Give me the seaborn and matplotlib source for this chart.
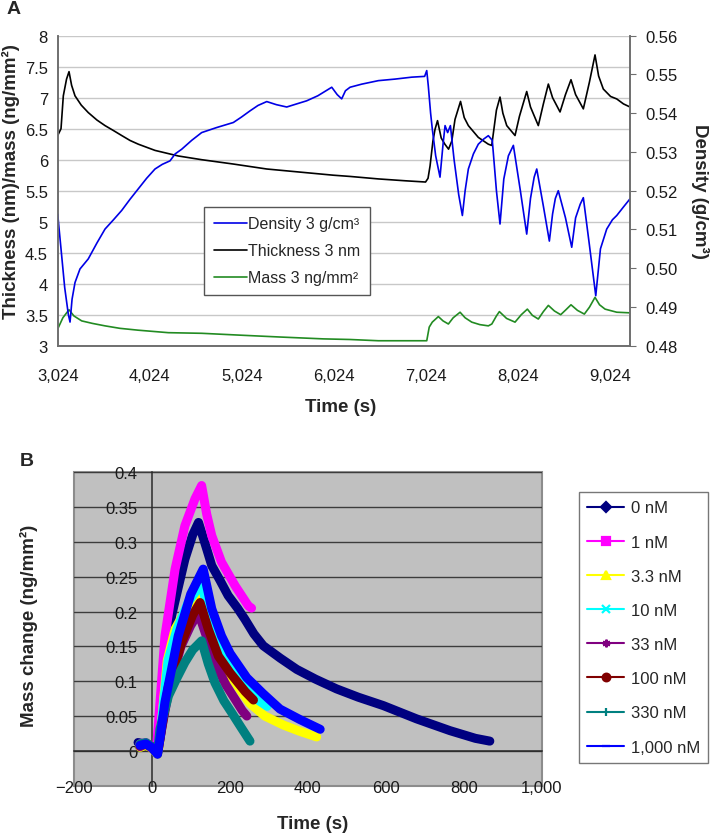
import matplotlib
matplotlib.use('Agg')
import pandas as pd
import matplotlib.pyplot as plt
import seaborn as sns
from matplotlib.lines import Line2D
from matplotlib.ticker import FuncFormatter

sns.set_style('white')
plt.rcParams['font.family'] = ['Liberation Sans', 'DejaVu Sans']

# ---- Panel A: QCM-D style traces (time in s) ----
thick_t = [3024, 3060, 3085, 3120, 3147, 3175, 3212, 3280, 3356, 3450, 3538, 3630, 3719, 3810, 3900,
           4081, 4334, 4588, 4932, 5295, 5656, 6018, 6200, 6507, 6800, 7020, 7047, 7069, 7100, 7123,
           7150, 7190, 7230, 7270, 7305, 7340, 7400, 7440, 7485, 7593, 7702, 7739, 7790, 7829, 7860,
           7902, 7992, 8040, 8119, 8160, 8245, 8300, 8354, 8400, 8481, 8540, 8600, 8650, 8734, 8800,
           8861, 8900, 8951, 9030, 9097, 9170, 9241]
thick_nm = [6.39, 6.50, 7.03, 7.30, 7.42, 7.20, 7.03, 6.88, 6.76, 6.64, 6.55, 6.47, 6.39, 6.31, 6.25,
            6.15, 6.06, 6.00, 5.93, 5.85, 5.80, 5.75, 5.73, 5.69, 5.66, 5.64, 5.70, 5.90, 6.30, 6.49,
            6.63, 6.35, 6.25, 6.17, 6.30, 6.65, 6.94, 6.68, 6.55, 6.36, 6.25, 6.23, 6.80, 7.01, 6.75,
            6.55, 6.39, 6.70, 7.10, 6.85, 6.55, 6.90, 7.22, 7.00, 6.77, 7.05, 7.29, 7.05, 6.82, 7.25,
            7.69, 7.35, 7.14, 7.02, 6.98, 6.90, 6.85]

dens_t = [3024, 3060, 3100, 3140, 3158, 3180, 3212, 3266, 3356, 3450, 3538, 3630, 3719, 3810, 3900,
          3990, 4081, 4160, 4244, 4300, 4371, 4480, 4588, 4751, 4932, 5020, 5113, 5200, 5295, 5400,
          5512, 5620, 5729, 5850, 6001, 6060, 6109, 6150, 6200, 6327, 6507, 6688, 6870, 7010, 7033,
          7050, 7075, 7093, 7130, 7177, 7210, 7232, 7260, 7290, 7330, 7380, 7420, 7450, 7485, 7540,
          7593, 7650, 7702, 7745, 7790, 7829, 7870, 7920, 7974, 8050, 8119, 8160, 8200, 8228, 8300,
          8365, 8400, 8430, 8462, 8540, 8608, 8650, 8700, 8734, 8800, 8869, 8920, 8988, 9050, 9097,
          9170, 9241]
dens_g = [0.5139, 0.5050, 0.4950, 0.4880, 0.4861, 0.4920, 0.4963, 0.4998, 0.5024, 0.5065, 0.5101,
          0.5125, 0.5149, 0.5178, 0.5205, 0.5232, 0.5256, 0.5268, 0.5277, 0.5295, 0.5307, 0.5330,
          0.5350, 0.5363, 0.5376, 0.5390, 0.5406, 0.5420, 0.5430, 0.5422, 0.5416, 0.5424, 0.5432,
          0.5445, 0.5467, 0.5448, 0.5437, 0.5458, 0.5467, 0.5475, 0.5484, 0.5488, 0.5493, 0.5495,
          0.5510, 0.5470, 0.5400, 0.5360, 0.5290, 0.5235, 0.5320, 0.5368, 0.5350, 0.5368, 0.5280,
          0.5190, 0.5136, 0.5200, 0.5256, 0.5295, 0.5320, 0.5333, 0.5342, 0.5330, 0.5200, 0.5114,
          0.5230, 0.5290, 0.5317, 0.5200, 0.5088, 0.5180, 0.5235, 0.5256, 0.5160, 0.5070, 0.5140,
          0.5180, 0.5200, 0.5130, 0.5054, 0.5130, 0.5165, 0.5182, 0.5060, 0.4929, 0.5050, 0.5101,
          0.5125, 0.5136, 0.5158, 0.5179]

mass_t = [3024, 3080, 3147, 3200, 3285, 3400, 3538, 3700, 3900, 4226, 4588, 5005, 5439, 5909, 6200,
          6507, 7033, 7060, 7093, 7159, 7210, 7268, 7320, 7395, 7450, 7522, 7610, 7702, 7740, 7790,
          7822, 7900, 7992, 8060, 8126, 8180, 8245, 8300, 8354, 8420, 8488, 8545, 8600, 8670, 8745,
          8800, 8861, 8910, 8970, 9097, 9241]
mass_ng = [3.27, 3.45, 3.58, 3.48, 3.40, 3.36, 3.32, 3.28, 3.25, 3.21, 3.20, 3.17, 3.14, 3.11, 3.10,
           3.08, 3.08, 3.30, 3.38, 3.47, 3.40, 3.35, 3.45, 3.54, 3.45, 3.38, 3.34, 3.32, 3.35, 3.48,
           3.55, 3.44, 3.38, 3.50, 3.59, 3.49, 3.43, 3.55, 3.65, 3.56, 3.50, 3.58, 3.66, 3.57, 3.51,
           3.62, 3.78, 3.66, 3.59, 3.54, 3.53]

a_xticks = [3024, 4024, 5024, 6024, 7024, 8024, 9024]

# ---- Panel B: mass change per concentration ----
conc_labels = ['0 nM', '1 nM', '3.3 nM', '10 nM', '33 nM', '100 nM', '330 nM', '1,000 nM']
conc_colors = ['#000080', '#ff00ff', '#ffff00', '#00ffff', '#800080', '#800000', '#008080', '#0000ff']
conc_markers = ['D', 's', '^', 'x', (6, 2, 0), 'o', '|', '_']

t_0 = [-35, -20, -5, 12, 22, 40, 51, 85, 105, 120, 141, 154, 175, 196, 220, 239, 262, 286, 330, 372,
       420, 474, 530, 594, 679, 765, 830, 867]
m_0 = [0.012, 0.010, 0.008, 0.000, 0.020, 0.150, 0.194, 0.275, 0.310, 0.328, 0.290, 0.266, 0.245, 0.223,
       0.205, 0.189, 0.168, 0.151, 0.133, 0.117, 0.103, 0.089, 0.077, 0.065, 0.046, 0.029, 0.018, 0.014]
t_1 = [-30, -15, 0, 12, 20, 34, 60, 85, 111, 128, 141, 154, 179, 214, 248, 256]
m_1 = [0.010, 0.012, 0.006, 0.000, 0.060, 0.165, 0.261, 0.323, 0.362, 0.381, 0.340, 0.309, 0.271, 0.237,
       0.208, 0.205]
t_3 = [-30, -15, 0, 15, 20, 40, 60, 90, 125, 145, 170, 200, 230, 252, 290, 338, 380, 423]
m_3 = [0.005, 0.008, 0.004, -0.005, 0.010, 0.130, 0.175, 0.205, 0.228, 0.185, 0.145, 0.110, 0.085, 0.068,
       0.050, 0.037, 0.028, 0.020]
t_10 = [-30, -15, 0, 15, 25, 42, 65, 95, 128, 145, 165, 190, 220, 250, 275, 296]
m_10 = [0.008, 0.010, 0.005, -0.004, 0.040, 0.130, 0.175, 0.215, 0.240, 0.200, 0.165, 0.135, 0.105, 0.085,
        0.072, 0.064]
t_33 = [-30, -15, 0, 15, 25, 45, 75, 100, 120, 140, 171, 190, 214, 232, 244]
m_33 = [0.006, 0.010, 0.004, -0.003, 0.030, 0.090, 0.150, 0.180, 0.198, 0.165, 0.117, 0.095, 0.074, 0.058,
        0.050]
t_100 = [-30, -15, 0, 15, 25, 43, 77, 105, 124, 145, 171, 201, 214, 240, 261]
m_100 = [0.008, 0.011, 0.006, -0.004, 0.030, 0.093, 0.156, 0.195, 0.213, 0.175, 0.136, 0.112, 0.103, 0.085,
         0.073]
t_330 = [-30, -15, 0, 15, 21, 43, 65, 85, 105, 128, 145, 162, 185, 205, 230, 252]
m_330 = [0.010, 0.012, 0.006, -0.004, 0.031, 0.079, 0.105, 0.127, 0.145, 0.158, 0.125, 0.098, 0.072, 0.055,
         0.033, 0.014]
t_1000 = [-30, -15, 0, 15, 22, 34, 68, 100, 132, 154, 179, 201, 244, 286, 329, 380, 432]
m_1000 = [0.008, 0.010, 0.005, -0.005, 0.020, 0.070, 0.165, 0.225, 0.261, 0.204, 0.165, 0.140, 0.105, 0.082,
          0.060, 0.045, 0.031]

b_times = [t_0, t_1, t_3, t_10, t_33, t_100, t_330, t_1000]
b_mass = [m_0, m_1, m_3, m_10, m_33, m_100, m_330, m_1000]

W, H = 710, 837
fig = plt.figure(figsize=(W / 100, H / 100), dpi=100)

# ================= Panel A =================
ax = fig.add_axes([57.7 / W, 1 - 346.7 / H, 572.3 / W, 310 / H])
ax2 = ax.twinx()

sns.lineplot(x=thick_t, y=thick_nm, ax=ax, color='black', lw=1.2, estimator=None, legend=False)
sns.lineplot(x=mass_t, y=mass_ng, ax=ax, color='#228b22', lw=1.2, estimator=None, legend=False)
sns.lineplot(x=dens_t, y=dens_g, ax=ax2, color='#0000e6', lw=1.2, estimator=None, legend=False)

ax.set_xlim(3024, 9241)
ax.set_ylim(3, 8)
ax2.set_ylim(0.48, 0.56)
ax.set_xticks(a_xticks)
ax.xaxis.set_major_formatter(FuncFormatter(lambda v, p: f'{v:,.0f}'))
ax.set_yticks([3 + 0.5 * i for i in range(11)])
ax.yaxis.set_major_formatter(FuncFormatter(lambda v, p: f'{v:g}'))
ax2.set_yticks([0.48 + 0.01 * i for i in range(9)])
ax2.yaxis.set_major_formatter(FuncFormatter(lambda v, p: f'{v:.2f}'))

ax.yaxis.grid(True, color='#c8c8c8', lw=1)
ax.xaxis.grid(False)
ax2.grid(False)
for a in (ax, ax2):
    a.spines['top'].set_visible(False)
    for s in ('left', 'right', 'bottom'):
        a.spines[s].set_color('#6e6e6e')
        a.spines[s].set_linewidth(1.2)
ax.tick_params(axis='x', direction='in', length=5, color='#6e6e6e', pad=16, labelsize=12,
               labelcolor='#1a1a1a')
ax.tick_params(axis='y', length=0, pad=7, labelsize=12, labelcolor='#1a1a1a')
ax2.tick_params(axis='y', direction='out', length=4, color='#6e6e6e', pad=7, labelsize=12,
                labelcolor='#1a1a1a')

ax.set_xlabel('Time (s)', fontsize=13.5, fontweight='bold', va='center')
ax.xaxis.set_label_coords(0.495, -0.195)
ax.set_ylabel('Thickness (nm)/mass (ng/mm²)', fontsize=13.5, fontweight='bold', va='center')
ax.yaxis.set_label_coords(-0.0825, 0.532)
ax2.set_ylabel('Density (g/cm³)', fontsize=13.5, fontweight='bold', rotation=270, va='center')
ax2.yaxis.set_label_coords(1.122, 0.5)

a_handles = [Line2D([], [], color='#0000e6', lw=1.2),
             Line2D([], [], color='black', lw=1.2),
             Line2D([], [], color='#228b22', lw=1.2)]
a_labels = ['Density 3 g/cm³', 'Thickness 3 nm', 'Mass 3 ng/mm²']
leg_a = ax2.legend(a_handles, a_labels, loc='upper left', bbox_to_anchor=(0.2556, 0.4484),
                   borderaxespad=0, fontsize=11.5, frameon=True, fancybox=False, edgecolor='#555555',
                   handlelength=2.1, handletextpad=0.05, labelspacing=0.75, borderpad=0.6)
leg_a.get_frame().set_linewidth(1.0)
leg_a.get_frame().set_alpha(1)

# ================= Panel B =================
bx = fig.add_axes([73.7 / W, 1 - 786.7 / H, 468 / W, 313.4 / H])
bx.set_facecolor('#c0c0c0')
bx.patch.set_edgecolor('#8c8c8c')
bx.patch.set_linewidth(1.5)

for t, m, c in zip(b_times, b_mass, conc_colors):
    sns.lineplot(x=t, y=m, ax=bx, color=c, lw=6.5, estimator=None, legend=False, zorder=3,
                 solid_capstyle='round', solid_joinstyle='round')

bx.set_xlim(-200, 1000)
bx.set_ylim(-0.05, 0.4)
bx.set_xticks([-200, 0, 200, 400, 600, 800, 1000])
bx.xaxis.set_major_formatter(FuncFormatter(lambda v, p: f'{v:,.0f}'.replace('-', '\u2212')))
bx.set_yticks([0.05 * i for i in range(9)])
bx.yaxis.set_major_formatter(FuncFormatter(lambda v, p: f'{round(v, 2):g}'))
bx.yaxis.grid(True, color='#3c3c3c', lw=1)
bx.xaxis.grid(False)
bx.set_axisbelow(True)

bx.spines['top'].set_visible(False)
bx.spines['right'].set_visible(False)
bx.spines['left'].set_position(('data', 0))
bx.spines['bottom'].set_position(('data', 0))
for s in ('left', 'bottom'):
    bx.spines[s].set_color('#2a2a2a')
    bx.spines[s].set_linewidth(1.1)
bx.tick_params(axis='x', direction='in', length=6, color='#2a2a2a', pad=21, labelsize=12,
               labelcolor='#1a1a1a')
bx.tick_params(axis='y', direction='in', length=5, color='#2a2a2a', pad=10, labelsize=12,
               labelcolor='#1a1a1a')

bx.set_xlabel('Time (s)', fontsize=13.5, fontweight='bold', va='center')
bx.xaxis.set_label_coords(0.511, -0.122)
bx.set_ylabel('Mass change (ng/mm²)', fontsize=13.5, fontweight='bold', va='center')
bx.yaxis.set_label_coords(-0.0955, 0.513)

b_handles = [Line2D([], [], color=c, lw=1.5, marker=mk, ms=5.5, mew=1.6)
             for c, mk in zip(conc_colors, conc_markers)]
leg_b = bx.legend(b_handles, conc_labels, loc='upper left', bbox_to_anchor=(1.08, 0.937),
                  borderaxespad=0, fontsize=12, frameon=True, fancybox=False, edgecolor='#555555',
                  handlelength=2.2, handletextpad=0.4, labelspacing=1.15, borderpad=0.5)
leg_b.get_frame().set_linewidth(1.0)

fig.text(7 / W, 1 - 10 / H, 'A', fontsize=14, fontweight='bold', va='center', ha='left')
fig.text(20 / W, 1 - 461.5 / H, 'B', fontsize=14, fontweight='bold', va='center', ha='left')

fig.savefig('out.png', dpi=100)
